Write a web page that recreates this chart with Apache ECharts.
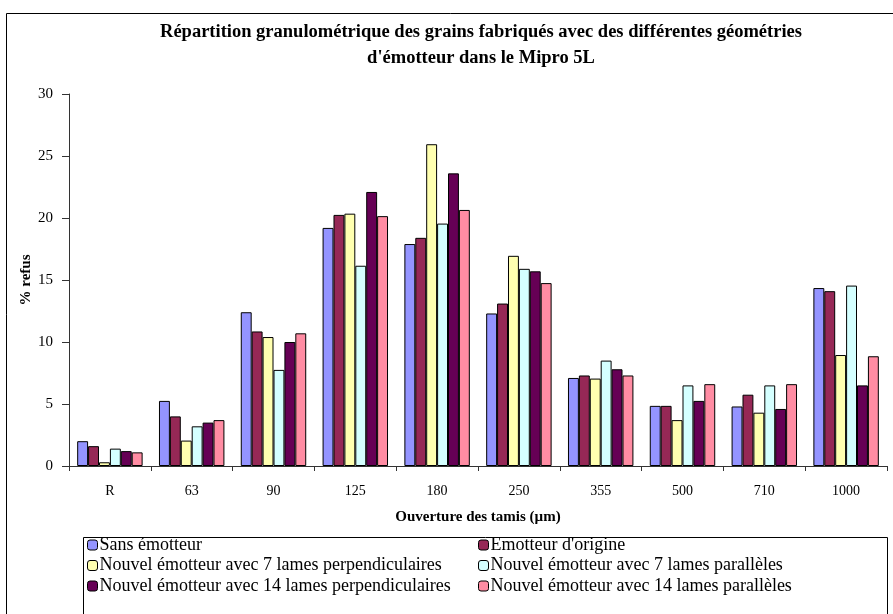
<!DOCTYPE html>
<html><head><meta charset="utf-8">
<script src="https://cdn.jsdelivr.net/npm/echarts@6/dist/echarts.min.js"></script>
<style>html,body{margin:0;padding:0;background:#fff}#c{width:893px;height:614px}</style>
</head><body><div id="c"></div>
<script>
const categories = ['R','63','90','125','180','250','355','500','710','1000'];
const seriesNames = ['Sans émotteur',"Emotteur d'origine",'Nouvel émotteur avec 7 lames perpendiculaires','Nouvel émotteur avec 7 lames parallèles','Nouvel émotteur avec 14 lames perpendiculaires','Nouvel émotteur avec 14 lames parallèles'];
const sansEmotteur = [2.0, 5.25, 12.4, 19.2, 17.9, 12.3, 7.1, 4.85, 4.8, 14.35];
const emotteurOrigine = [1.6, 4.0, 10.85, 20.25, 18.4, 13.1, 7.3, 4.85, 5.75, 14.1];
const n7Perp = [0.3, 2.05, 10.4, 20.35, 25.95, 16.95, 7.05, 3.7, 4.3, 8.95];
const n7Par = [1.4, 3.2, 7.75, 16.15, 19.55, 15.9, 8.5, 6.5, 6.5, 14.55];
const n14Perp = [1.2, 3.5, 10.0, 22.1, 23.6, 15.7, 7.8, 5.25, 4.6, 6.5];
const n14Par = [1.1, 3.7, 10.7, 20.15, 20.65, 14.75, 7.3, 6.6, 6.6, 8.85];
const yTicks = [0, 5, 10, 15, 20, 25, 30];

const allData = [sansEmotteur, emotteurOrigine, n7Perp, n7Par, n14Perp, n14Par];
const colors = ['#9494FF','#962856','#FFFFB0','#D4FFFF','#660055','#FF8CA3'];
const font = '"Liberation Serif","Times New Roman",serif';

const legendCommon = {
  orient: 'vertical', itemWidth: 10, itemHeight: 10, itemGap: 2.5,
  textStyle: {fontFamily: font, fontSize: 18, color: '#000', lineHeight: 18, padding: [0,0,0,-3]},
  itemStyle: {borderColor: '#000', borderWidth: 1}
};

const chart = echarts.init(document.getElementById('c'));
chart.setOption({
  backgroundColor: '#fff',
  animation: false,
  color: colors,
  title: {
    text: 'Répartition granulométrique des grains fabriqués avec des différentes géométries\nd\'émotteur dans le Mipro 5L',
    left: 476, top: 14, textAlign: 'center',
    textStyle: {fontFamily: font, fontSize: 18.5, fontWeight: 'bold', color: '#000', lineHeight: 26}
  },
  graphic: [
    {type: 'rect', shape: {x: 6.5, y: 13.5, width: 900, height: 620}, style: {fill: 'none', stroke: '#000', lineWidth: 1}, z: -1},
    {type: 'rect', shape: {x: 83.5, y: 537.5, width: 804, height: 90}, style: {fill: 'none', stroke: '#000', lineWidth: 1}, z: -1}
  ],
  legend: [
    Object.assign({left: 82, top: 531, data: [seriesNames[0], seriesNames[2], seriesNames[4]]}, legendCommon),
    Object.assign({left: 473, top: 531, data: [seriesNames[1], seriesNames[3], seriesNames[5]]}, legendCommon)
  ],
  grid: {left: 69, right: 6, top: 94, bottom: 148, containLabel: false},
  xAxis: {
    type: 'category', data: categories,
    name: 'Ouverture des tamis (µm)', nameLocation: 'middle', nameGap: 44, nameMoveOverlap: false,
    nameTextStyle: {fontFamily: font, fontSize: 15, fontWeight: 'bold', color: '#000'},
    axisLine: {lineStyle: {color: '#333', width: 1}},
    axisTick: {show: true, length: 5, lineStyle: {color: '#333'}},
    axisLabel: {fontFamily: font, fontSize: 14, color: '#000', margin: 18}
  },
  yAxis: {
    type: 'value', min: yTicks[0], max: yTicks[yTicks.length-1], interval: 5,
    name: '% refus', nameLocation: 'middle', nameGap: 35, nameRotate: 90, nameMoveOverlap: false,
    nameTextStyle: {fontFamily: font, fontSize: 15, fontWeight: 'bold', color: '#000'},
    axisLine: {show: true, lineStyle: {color: '#333', width: 1}},
    axisTick: {show: true, length: 7, lineStyle: {color: '#333'}},
    splitLine: {show: false},
    axisLabel: {fontFamily: font, fontSize: 15, color: '#000', margin: 16}
  },
  series: allData.map((d, i) => ({
    type: 'bar', name: seriesNames[i], data: d,
    barGap: '0%', barCategoryGap: '20%',
    itemStyle: {color: colors[i], borderColor: '#000', borderWidth: 1}
  }))
});
</script></body></html>
